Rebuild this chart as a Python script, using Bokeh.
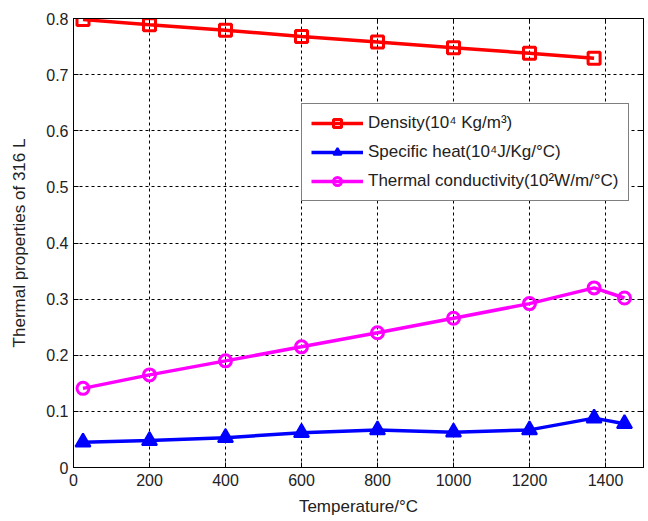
from bokeh.plotting import figure
from bokeh.models import LinearAxis, Range1d, FixedTicker, Legend, LegendItem, CustomJSTickFormatter
from bokeh.embed import file_html
from bokeh.resources import INLINE

temp_density = [25, 200, 400, 600, 800, 1000, 1200, 1370]
density = [0.798, 0.789, 0.779, 0.768, 0.758, 0.748, 0.738, 0.729]

temp_full = [25, 200, 400, 600, 800, 1000, 1200, 1370, 1450]
specific_heat = [0.045, 0.048, 0.053, 0.062, 0.067, 0.063, 0.067, 0.088, 0.078]
conductivity = [0.141, 0.165, 0.190, 0.215, 0.240, 0.266, 0.292, 0.320, 0.302]

x_ticks = [0, 200, 400, 600, 800, 1000, 1200, 1400]
y_ticks = [0, 0.1, 0.2, 0.3, 0.4, 0.5, 0.6, 0.7, 0.8]
y_labels = ["0", "0.1", "0.2", "0.3", "0.4", "0.5", "0.6", "0.7", "0.8"]

FONT = "Liberation Sans"

p = figure(width=648, height=521, output_backend="svg", toolbar_location=None,
           x_range=Range1d(0, 1500), y_range=Range1d(0, 0.8))
p.min_border_left = 73
p.min_border_right = 5
p.min_border_top = 18
p.min_border_bottom = 54
p.background_fill_color = "white"
p.border_fill_color = "white"
p.outline_line_color = "black"
p.outline_line_width = 1

for ax in (p.xaxis[0], p.yaxis[0]):
    ax.major_tick_in = 5
    ax.major_tick_out = 0
    ax.minor_tick_in = 0
    ax.minor_tick_out = 0
    ax.axis_line_color = "black"
    ax.major_label_text_font = FONT
    ax.major_label_text_font_size = "16px"
    ax.major_label_text_color = "#222222"
    ax.axis_label_text_font = FONT
    ax.axis_label_text_font_size = "17px"
    ax.axis_label_text_font_style = "normal"
    ax.axis_label_text_color = "#222222"

p.xaxis[0].ticker = FixedTicker(ticks=x_ticks)
p.yaxis[0].ticker = FixedTicker(ticks=y_ticks)
p.yaxis[0].major_label_overrides = {t: l for t, l in zip(y_ticks, y_labels)}
p.xaxis[0].axis_label = "Temperature/°C"
p.yaxis[0].axis_label = "Thermal properties of 316 L"
p.xaxis[0].major_label_standoff = 6
p.yaxis[0].major_label_standoff = 5
p.xaxis[0].axis_label_standoff = 8
p.yaxis[0].axis_label_standoff = 14

# right and top axes: tick marks only
blank = CustomJSTickFormatter(code="return '';")
right = LinearAxis(ticker=FixedTicker(ticks=y_ticks), formatter=blank,
                   major_tick_in=5, major_tick_out=0, minor_tick_in=0, minor_tick_out=0,
                   major_label_standoff=0)
top = LinearAxis(ticker=FixedTicker(ticks=x_ticks), formatter=blank,
                 major_tick_in=5, major_tick_out=0, minor_tick_in=0, minor_tick_out=0,
                 major_label_standoff=0)
p.add_layout(right, "right")
p.add_layout(top, "above")

p.xgrid.ticker = FixedTicker(ticks=x_ticks)
p.ygrid.ticker = FixedTicker(ticks=y_ticks)
for g in (p.xgrid[0], p.ygrid[0]):
    g.grid_line_color = "black"
    g.grid_line_dash = "3 3"
    g.grid_line_width = 1
    g.grid_line_alpha = 1

RED = "#ff0000"
BLUE = "#0000ff"
MAG = "#ff00ff"

l1 = p.line(temp_density, density, line_color=RED, line_width=3.5)
m1 = p.scatter(temp_density, density, marker="square", size=12, fill_color=None,
               line_color=RED, line_width=3)
l2 = p.line(temp_full, specific_heat, line_color=BLUE, line_width=3.5)
m2 = p.scatter(temp_full, specific_heat, marker="triangle", size=15, fill_color=BLUE,
               line_color=BLUE, line_width=2)
l3 = p.line(temp_full, conductivity, line_color=MAG, line_width=3.5)
m3 = p.scatter(temp_full, conductivity, marker="circle", size=12, fill_color=None,
               line_color=MAG, line_width=3)

legend = Legend(items=[
    LegendItem(label="Density(10⁴ Kg/m³)", renderers=[l1, m1]),
    LegendItem(label="Specific heat(10⁴J/Kg/°C)", renderers=[l2, m2]),
    LegendItem(label="Thermal conductivity(10²W/m/°C)", renderers=[l3, m3]),
], location=(228, 266))
legend.label_text_font = FONT
legend.label_text_font_size = "17px"
legend.label_text_color = "#222222"
legend.border_line_color = "black"
legend.border_line_width = 1
legend.background_fill_color = "white"
legend.background_fill_alpha = 1
legend.glyph_width = 52
legend.glyph_height = 20
legend.spacing = 9
legend.padding = 9
legend.margin = 0
legend.label_standoff = 5
p.add_layout(legend, "center")

open("out.html", "w").write(file_html(p, INLINE))
